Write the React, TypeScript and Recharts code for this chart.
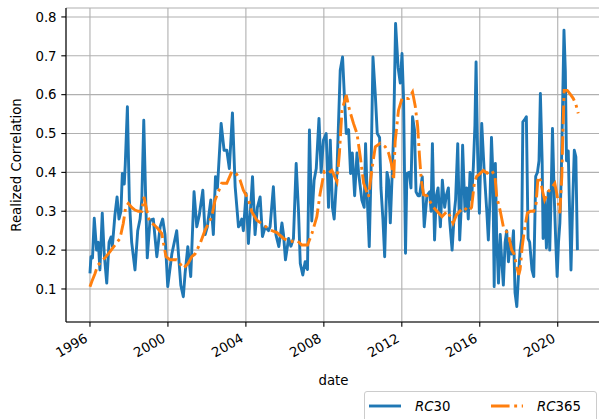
import React from 'react';
import { LineChart, Line, XAxis, YAxis, CartesianGrid } from 'recharts';

const rc30Dates = [
  1996.0, 1996.05, 1996.13, 1996.22, 1996.34, 1996.43, 1996.51, 1996.63, 1996.73, 1996.86,
  1996.98, 1997.08, 1997.15, 1997.28, 1997.39, 1997.49, 1997.59, 1997.66, 1997.76, 1997.81,
  1997.92, 1998.02, 1998.14, 1998.31, 1998.45, 1998.57, 1998.66, 1998.76, 1998.86, 1998.94,
  1999.08, 1999.25, 1999.43, 1999.6, 1999.73, 1999.85, 1999.99, 2000.2, 2000.45, 2000.59,
  2000.66, 2000.79, 2000.88, 2001.02, 2001.17, 2001.34, 2001.48, 2001.61, 2001.79, 2001.91,
  2002.02, 2002.2, 2002.33, 2002.44, 2002.54, 2002.73, 2002.88, 2003.02, 2003.15, 2003.31,
  2003.45, 2003.62, 2003.7, 2003.79, 2003.87, 2004.01, 2004.13, 2004.34, 2004.47, 2004.59,
  2004.73, 2004.85, 2004.99, 2005.16, 2005.24, 2005.41, 2005.54, 2005.69, 2005.85, 2005.93,
  2006.03, 2006.19, 2006.31, 2006.44, 2006.58, 2006.7, 2006.79, 2006.92, 2007.04, 2007.16,
  2007.26, 2007.38, 2007.5, 2007.61, 2007.75, 2007.86, 2007.98, 2008.12, 2008.24, 2008.33,
  2008.44, 2008.53, 2008.67, 2008.84, 2008.96, 2009.05, 2009.15, 2009.27, 2009.37, 2009.46,
  2009.58, 2009.7, 2009.78, 2009.95, 2010.07, 2010.14, 2010.23, 2010.33, 2010.42, 2010.52,
  2010.64, 2010.74, 2010.86, 2010.93, 2011.03, 2011.12, 2011.24, 2011.32, 2011.41, 2011.51,
  2011.58, 2011.68, 2011.81, 2011.92, 2012.01, 2012.09, 2012.19, 2012.26, 2012.38, 2012.47,
  2012.55, 2012.65, 2012.73, 2012.83, 2012.91, 2013.05, 2013.15, 2013.29, 2013.43, 2013.5,
  2013.57, 2013.68, 2013.77, 2013.86, 2013.98, 2014.08, 2014.2, 2014.28, 2014.39, 2014.45,
  2014.58, 2014.7, 2014.76, 2014.87, 2014.97, 2015.04, 2015.12, 2015.24, 2015.33, 2015.41,
  2015.5, 2015.58, 2015.67, 2015.75, 2015.81, 2015.89, 2015.98, 2016.05, 2016.1, 2016.22,
  2016.36, 2016.44, 2016.53, 2016.6, 2016.67, 2016.74, 2016.8, 2016.87, 2016.96, 2017.05,
  2017.13, 2017.21, 2017.3, 2017.38, 2017.47, 2017.56, 2017.64, 2017.73, 2017.81, 2017.9,
  2017.98, 2018.07, 2018.15, 2018.21, 2018.29, 2018.39, 2018.48, 2018.56, 2018.68, 2018.77,
  2018.87, 2018.96, 2019.04, 2019.11, 2019.2, 2019.25, 2019.33, 2019.42, 2019.51, 2019.59,
  2019.66, 2019.73, 2019.82, 2019.9, 2019.97, 2020.04, 2020.11, 2020.18, 2020.25, 2020.32,
  2020.39, 2020.45, 2020.54, 2020.59, 2020.68, 2020.76, 2020.85, 2020.93, 2021.01,
];
const rc30Values = [
  0.14, 0.183, 0.18, 0.282, 0.2, 0.22, 0.149, 0.295, 0.19, 0.115,
  0.22, 0.234, 0.21, 0.29, 0.337, 0.28, 0.3, 0.397, 0.37, 0.42,
  0.569, 0.33, 0.22, 0.149, 0.25, 0.28, 0.33, 0.534, 0.33, 0.18,
  0.277, 0.28, 0.183, 0.26, 0.28, 0.24, 0.106, 0.19, 0.25, 0.157,
  0.11, 0.08, 0.14, 0.209, 0.132, 0.35, 0.26, 0.29, 0.354, 0.24,
  0.26, 0.329, 0.24, 0.389, 0.36, 0.526, 0.457, 0.457, 0.41, 0.553,
  0.363, 0.26, 0.265, 0.28, 0.25, 0.346, 0.217, 0.389, 0.24, 0.31,
  0.337, 0.235, 0.26, 0.25, 0.26, 0.363, 0.24, 0.209, 0.27, 0.24,
  0.175, 0.23, 0.21, 0.23, 0.423, 0.3, 0.166, 0.136, 0.17, 0.15,
  0.509, 0.275, 0.38, 0.41, 0.539, 0.4, 0.483, 0.5, 0.31, 0.483,
  0.31, 0.28, 0.4, 0.663, 0.697, 0.6, 0.5, 0.51, 0.397, 0.45,
  0.34, 0.45, 0.4, 0.329, 0.31, 0.474, 0.33, 0.209, 0.4, 0.697,
  0.6, 0.5, 0.49, 0.36, 0.28, 0.183, 0.4, 0.38, 0.27, 0.4,
  0.5, 0.783, 0.67, 0.63, 0.706, 0.59, 0.192, 0.397, 0.4, 0.36,
  0.543, 0.51, 0.35, 0.34, 0.34, 0.389, 0.26, 0.34, 0.35, 0.3,
  0.474, 0.226, 0.34, 0.36, 0.26, 0.38, 0.31, 0.34, 0.36, 0.28,
  0.2, 0.3, 0.33, 0.474, 0.226, 0.3, 0.47, 0.3, 0.36, 0.28,
  0.4, 0.33, 0.414, 0.52, 0.684, 0.45, 0.295, 0.44, 0.526, 0.41,
  0.3, 0.226, 0.34, 0.49, 0.4, 0.106, 0.423, 0.23, 0.115, 0.24,
  0.17, 0.11, 0.22, 0.25, 0.17, 0.22, 0.19, 0.25, 0.09, 0.055,
  0.13, 0.2, 0.23, 0.53, 0.535, 0.543, 0.23, 0.22, 0.149, 0.132,
  0.39, 0.4, 0.43, 0.603, 0.43, 0.23, 0.33, 0.205, 0.35, 0.2,
  0.34, 0.513, 0.34, 0.22, 0.132, 0.22, 0.27, 0.39, 0.57, 0.766,
  0.66, 0.43, 0.455, 0.34, 0.149, 0.31, 0.457, 0.44, 0.2,
];

const rc365Dates = [
  1996.0, 1996.1, 1996.26, 1996.39, 1996.51, 1996.77, 1997.03, 1997.28, 1997.54, 1997.71,
  1997.83, 1997.97, 1998.14, 1998.31, 1998.48, 1998.66, 1998.77, 1998.91, 1999.05, 1999.29,
  1999.49, 1999.68, 1999.9, 2000.11, 2000.45, 2000.62, 2000.79, 2001.03, 2001.22, 2001.39,
  2001.65, 2001.91, 2002.25, 2002.42, 2002.76, 2003.02, 2003.28, 2003.53, 2003.7, 2003.87,
  2004.13, 2004.3, 2004.56, 2004.9, 2005.24, 2005.59, 2005.93, 2006.27, 2006.62, 2006.87,
  2007.16, 2007.39, 2007.64, 2007.81, 2008.02, 2008.24, 2008.41, 2008.67, 2008.8, 2008.93,
  2009.15, 2009.32, 2009.52, 2009.7, 2009.87, 2010.04, 2010.29, 2010.47, 2010.64, 2010.89,
  2011.15, 2011.32, 2011.46, 2011.58, 2011.66, 2011.83, 2012.01, 2012.18, 2012.35, 2012.55,
  2012.69, 2012.81, 2012.91, 2013.0, 2013.12, 2013.29, 2013.46, 2013.63, 2013.81, 2014.06,
  2014.32, 2014.49, 2014.63, 2014.8, 2014.97, 2015.18, 2015.41, 2015.58, 2015.72, 2015.84,
  2016.01, 2016.18, 2016.38, 2016.61, 2016.78, 2016.87, 2017.04, 2017.21, 2017.47, 2017.64,
  2017.76, 2017.9, 2018.0, 2018.07, 2018.18, 2018.29, 2018.44, 2018.59, 2018.77, 2018.89,
  2018.99, 2019.11, 2019.23, 2019.33, 2019.51, 2019.68, 2019.85, 2019.97, 2020.11, 2020.21,
  2020.26, 2020.33, 2020.49, 2020.66, 2020.8, 2020.93, 2021.05,
];
const rc365Values = [
  0.106, 0.12, 0.14, 0.16, 0.167, 0.18, 0.196, 0.213, 0.23, 0.269,
  0.31, 0.32, 0.31, 0.303, 0.3, 0.3, 0.337, 0.303, 0.273, 0.265,
  0.255, 0.243, 0.183, 0.175, 0.175, 0.165, 0.153, 0.165, 0.183, 0.19,
  0.217, 0.252, 0.286, 0.329, 0.372, 0.372, 0.402, 0.395, 0.38, 0.354,
  0.33, 0.299, 0.277, 0.265, 0.252, 0.245, 0.23, 0.222, 0.225, 0.213,
  0.213, 0.243, 0.286, 0.346, 0.402, 0.398, 0.405, 0.376, 0.45, 0.56,
  0.599, 0.56, 0.526, 0.5, 0.44, 0.372, 0.337, 0.41, 0.466, 0.475,
  0.466, 0.45, 0.423, 0.38, 0.48, 0.56, 0.59, 0.59, 0.59, 0.607,
  0.57, 0.52, 0.44, 0.38, 0.342, 0.34, 0.324, 0.31, 0.3, 0.286,
  0.3, 0.286, 0.269, 0.29, 0.3, 0.31, 0.3, 0.31, 0.372, 0.39,
  0.397, 0.405, 0.398, 0.405, 0.39, 0.337, 0.303, 0.26, 0.24, 0.2,
  0.19, 0.157, 0.136, 0.15, 0.21, 0.252, 0.295, 0.3, 0.3, 0.32,
  0.389, 0.38, 0.35, 0.329, 0.35, 0.36, 0.372, 0.34, 0.295, 0.39,
  0.5, 0.611, 0.611, 0.6, 0.59, 0.575, 0.552,
];

const xTicks = [1996, 2000, 2004, 2008, 2012, 2016, 2020];
const yTicks = [0.1, 0.2, 0.3, 0.4, 0.5, 0.6, 0.7, 0.8];
const seriesNames = [
  { italic: 'RC', rest: '30' },
  { italic: 'RC', rest: '365' },
];

const rc30Data = rc30Dates.map((t, i) => ({ t, v: rc30Values[i] }));
const rc365Data = rc365Dates.map((t, i) => ({ t, v: rc365Values[i] }));

const FONT = 'DejaVu Sans, Verdana, sans-serif';
const FS = 13.3;
const BLUE = '#1f77b4';
const ORANGE = '#ff7f0e';
const LW = 2.9;
const DASHDOT = `${6.4 * LW} ${1.6 * LW} ${1 * LW} ${1.6 * LW}`;

const XTick = (props: any) => {
  const { x, y, payload } = props;
  const ax = x - 1.5;
  const ay = y + 9.5;
  return (
    <text
      x={ax}
      y={ay}
      textAnchor="end"
      fontSize={FS}
      fontFamily={FONT}
      fill="#000"
      transform={`rotate(-30, ${ax}, ${ay})`}
    >
      {payload.value}
    </text>
  );
};

const XLabel = (props: any) => {
  const vb = props.viewBox || {};
  const cx = vb.x + vb.width / 2;
  return (
    <text x={cx} y={385} textAnchor="middle" fontSize={FS} fontFamily={FONT} fill="#000">
      date
    </text>
  );
};

const YLabel = (props: any) => {
  const vb = props.viewBox || {};
  const cy = vb.y + vb.height / 2;
  const cx = 21;
  return (
    <text
      x={cx}
      y={cy}
      textAnchor="middle"
      fontSize={FS}
      fontFamily={FONT}
      fill="#000"
      transform={`rotate(-90, ${cx}, ${cy})`}
    >
      Realized Correlation
    </text>
  );
};

export default function App() {
  return (
    <div
      style={{
        position: 'absolute',
        left: 0,
        top: 0,
        width: 599,
        height: 419,
        overflow: 'hidden',
        background: '#fff',
      }}
    >
      <LineChart
        width={610}
        height={419}
        margin={{ top: 8, right: 9, left: 0, bottom: 0 }}
      >
        <CartesianGrid stroke="#b0b0b0" strokeWidth={1.1} />
        <XAxis
          type="number"
          dataKey="t"
          domain={[1994.77, 2022.22]}
          allowDataOverflow
          ticks={xTicks}
          interval={0}
          height={97}
          tickSize={4.7}
          tickMargin={4.7}
          tick={<XTick />}
          tickLine={{ stroke: '#000', strokeWidth: 1.1 }}
          axisLine={{ stroke: '#000', strokeWidth: 1.1 }}
          label={<XLabel />}
        />
        <XAxis
          xAxisId="top"
          orientation="top"
          type="number"
          domain={[1994.77, 2022.22]}
          allowDataOverflow
          height={0}
          tick={false}
          tickLine={false}
          axisLine={{ stroke: '#000', strokeWidth: 1.1 }}
        />
        <YAxis
          type="number"
          domain={[0.015, 0.823]}
          allowDataOverflow
          ticks={yTicks}
          interval={0}
          width={66}
          tickSize={4.7}
          tickMargin={4.7}
          tickFormatter={(v: number) => v.toFixed(1)}
          tick={{ fontSize: FS, fontFamily: FONT, fill: '#000' }}
          tickLine={{ stroke: '#000', strokeWidth: 1.1 }}
          axisLine={{ stroke: '#000', strokeWidth: 1.1 }}
          label={<YLabel />}
        />
        <Line
          data={rc30Data}
          dataKey="v"
          type="linear"
          stroke={BLUE}
          strokeWidth={LW}
          dot={false}
          activeDot={false}
          isAnimationActive={false}
          strokeLinejoin="round"
        />
        <Line
          data={rc365Data}
          dataKey="v"
          type="linear"
          stroke={ORANGE}
          strokeWidth={LW}
          strokeDasharray={DASHDOT}
          dot={false}
          activeDot={false}
          isAnimationActive={false}
        />
      </LineChart>
      <div
        style={{
          position: 'absolute',
          left: 364,
          top: 391,
          width: 233,
          height: 40,
          border: '1px solid #cccccc',
          borderRadius: 3,
          background: 'rgba(255,255,255,0.8)',
          boxSizing: 'border-box',
        }}
      >
        <svg width={233} height={40} style={{ display: 'block' }}>
          <line x1={4} x2={36} y1={14} y2={14} stroke={BLUE} strokeWidth={LW} />
          <text x={50} y={19} fontSize={FS} fontFamily={FONT} fill="#000">
            <tspan fontStyle="italic">{seriesNames[0].italic}</tspan>
            {seriesNames[0].rest}
          </text>
          <line x1={126} x2={158} y1={14} y2={14} stroke={ORANGE} strokeWidth={LW} strokeDasharray={DASHDOT} />
          <text x={172} y={19} fontSize={FS} fontFamily={FONT} fill="#000">
            <tspan fontStyle="italic">{seriesNames[1].italic}</tspan>
            {seriesNames[1].rest}
          </text>
        </svg>
      </div>
    </div>
  );
}
